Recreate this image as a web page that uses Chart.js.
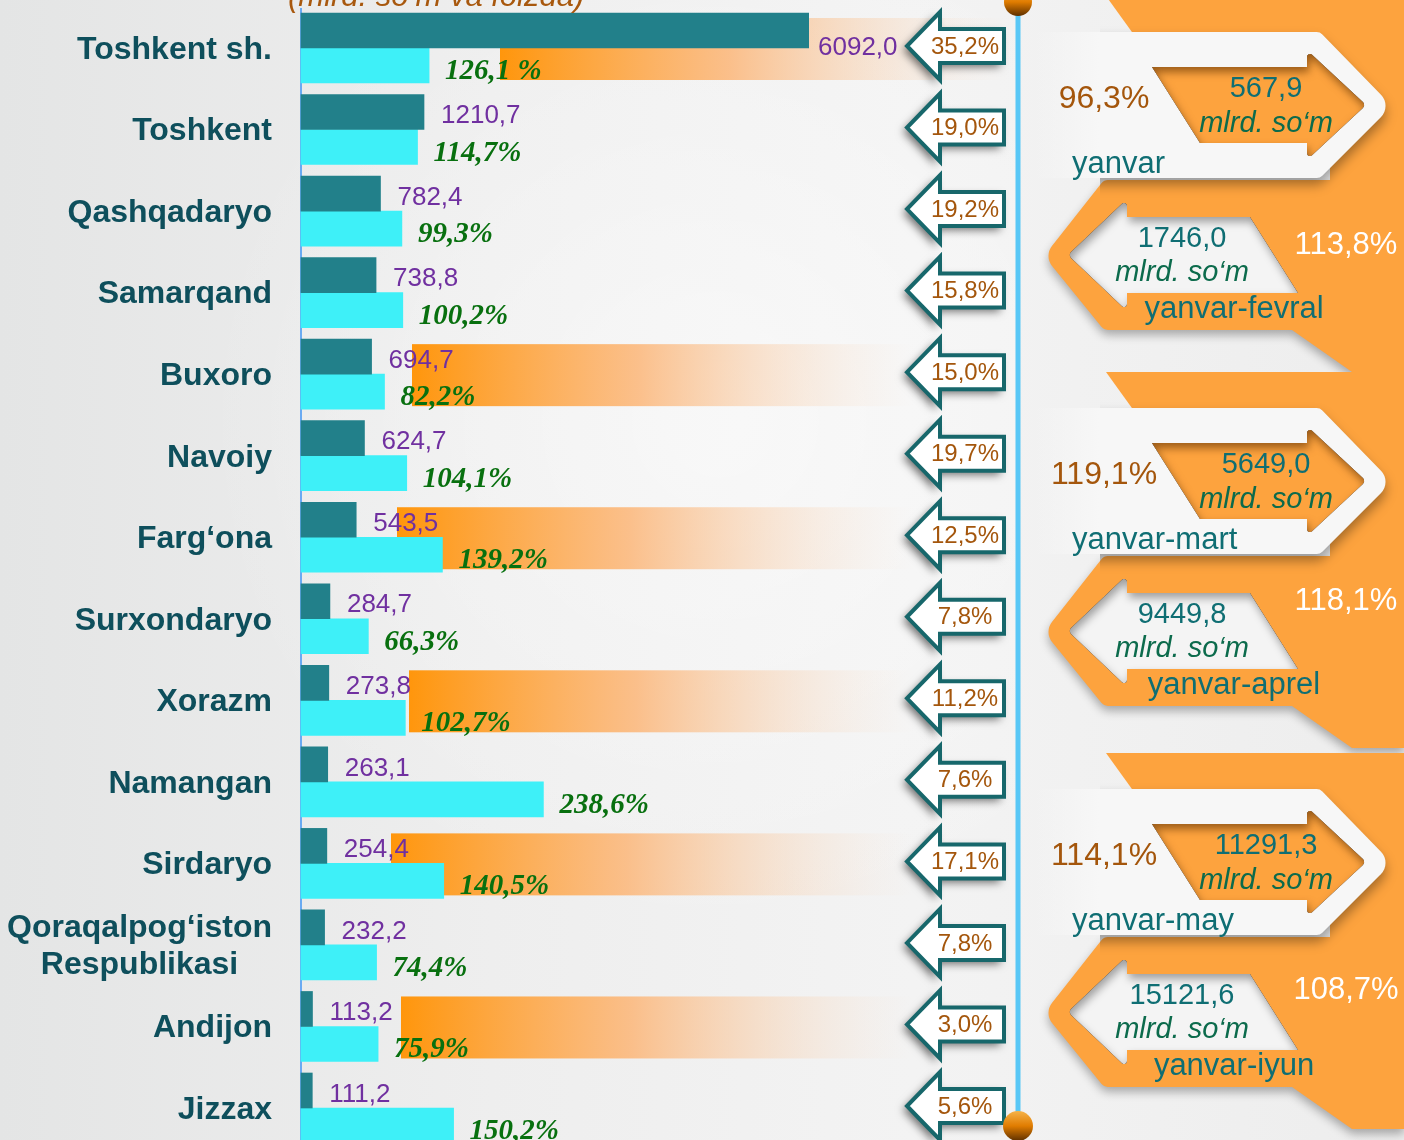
<!DOCTYPE html>
<html lang="uz">
<head>
    <meta charset="UTF-8">
    <title>Hududlar kesimida</title>
    <style>
        body {
            margin: 0;
            background: #ececec;
        }

        .wrap {
            position: relative;
            width: 1404px;
            height: 1140px;
        }
    </style>
</head>
<body>
    <div class="wrap"><canvas id="chart"></canvas></div>
    <script src="https://cdn.jsdelivr.net/npm/chart.js"></script>
    <script>
        // Ma'lumotlar
        const categories = ['Toshkent sh.', 'Toshkent', 'Qashqadaryo', 'Samarqand', 'Buxoro', 'Navoiy', 'Farg‘ona',
            'Surxondaryo', 'Xorazm', 'Namangan', 'Sirdaryo', ['Qoraqalpog‘iston', 'Respublikasi'], 'Andijon', 'Jizzax'];
        const volumes = [6092.0, 1210.7, 782.4, 738.8, 694.7, 624.7, 543.5, 284.7, 273.8, 263.1, 254.4, 232.2, 113.2, 111.2];
        const growth = [126.1, 114.7, 99.3, 100.2, 82.2, 104.1, 139.2, 66.3, 102.7, 238.6, 140.5, 74.4, 75.9, 150.2];
        const shares = [35.2, 19.0, 19.2, 15.8, 15.0, 19.7, 12.5, 7.8, 11.2, 7.6, 17.1, 7.8, 3.0, 5.6];

        const months = ['yanvar', 'yanvar-fevral', 'yanvar-mart', 'yanvar-aprel', 'yanvar-may', 'yanvar-iyun'];
        const cumVolumes = [567.9, 1746.0, 5649.0, 9449.8, 11291.3, 15121.6];
        const cumGrowth = [96.3, 113.8, 119.1, 118.1, 114.1, 108.7];

        // Ko'rinish
        const ORANGE = '#fda33e';
        const TEAL_TXT = '#0f6e73';
        const GREEN_IT = '#0c6b4c';
        const BROWN = '#a4560c';
        const SANS = '"Liberation Sans", Arial, sans-serif';
        const SERIF = '"Liberation Serif", "Times New Roman", serif';

        // ajratilgan qatorlar: indeks -> chap chegara (px)
        const bandStart = { 0: 500, 4: 412, 6: 397, 8: 409, 10: 391, 12: 401 };
        const pairTop = [0, 376, 757];
        const whitePctDy = [245, 225, 233];

        // o'ng panel shakllari: [x, y, radius]
        const topBand = [[1106, -4], [1404, -4], [1404, 46], [1142, 46]];
        const lowerBlock = [[1104, 180, 8], [1404, 180], [1404, 372], [1352, 372], [1292, 330], [1104, 330, 8], [1044, 256, 16]];
        const whiteRibbon = [[1030, 32], [1320, 32, 8], [1392, 106, 16], [1320, 178, 8], [1030, 178]];
        const innerOrange = [[1152, 67], [1307, 67], [1307, 50, 3], [1366, 105, 4], [1307, 160, 3], [1307, 143], [1200, 143]];
        const innerWhite = [[1068, 255, 4], [1127, 199, 3], [1127, 217], [1250, 217], [1298, 293], [1127, 293], [1127, 311, 3]];
        const RIBBON_SPLIT = 1100;

        const fmt = v => v.toFixed(1).replace('.', ',');

        function tracePath(ctx, pts, oy) {
            const n = pts.length;
            const p = i => pts[(i + n) % n];
            const a = p(0), z = p(n - 1);
            ctx.moveTo((a[0] + z[0]) / 2, (a[1] + z[1]) / 2 + oy);
            for (let i = 0; i < n; i++) {
                const c = p(i), nx = p(i + 1);
                ctx.arcTo(c[0], c[1] + oy, nx[0], nx[1] + oy, c[2] || 0);
            }
            ctx.closePath();
        }

        function roundPath(ctx, pts, oy) {
            ctx.beginPath();
            tracePath(ctx, pts, oy);
        }

        function insetShadow(ctx, pts, oy, color) {
            ctx.save();
            roundPath(ctx, pts, oy);
            ctx.clip();
            ctx.beginPath();
            ctx.rect(900, oy - 300, 700, 900);
            tracePath(ctx, pts, oy);
            ctx.shadowColor = color;
            ctx.shadowBlur = 8;
            ctx.shadowOffsetX = 2;
            ctx.shadowOffsetY = 5;
            ctx.fillStyle = '#000';
            ctx.fill('evenodd');
            ctx.restore();
        }

        function drawPair(ctx, oy, k) {
            ctx.save();
            ctx.fillStyle = ORANGE;
            roundPath(ctx, topBand, oy);
            ctx.fill();

            ctx.save();
            ctx.shadowColor = 'rgba(0,0,0,0.3)';
            ctx.shadowBlur = 10;
            ctx.shadowOffsetY = 5;
            roundPath(ctx, lowerBlock, oy);
            ctx.fill();
            ctx.restore();
            ctx.fillRect(1330, oy + 20, 74, 180);

            // oq lenta: o'ng qismi soya bilan, chap qismi fonga singib ketadi
            ctx.save();
            ctx.beginPath();
            ctx.rect(RIBBON_SPLIT, oy - 10, 320, 220);
            ctx.clip();
            ctx.fillStyle = '#f7f7f7';
            ctx.shadowColor = 'rgba(0,0,0,0.35)';
            ctx.shadowBlur = 12;
            ctx.shadowOffsetY = 7;
            roundPath(ctx, whiteRibbon, oy);
            ctx.fill();
            ctx.restore();
            ctx.save();
            ctx.beginPath();
            ctx.rect(1020, oy - 10, RIBBON_SPLIT - 1020, 220);
            ctx.clip();
            const wg = ctx.createLinearGradient(1035, 0, RIBBON_SPLIT, 0);
            wg.addColorStop(0, 'rgba(247,247,247,0)');
            wg.addColorStop(1, '#f7f7f7');
            ctx.fillStyle = wg;
            roundPath(ctx, whiteRibbon, oy);
            ctx.fill();
            ctx.restore();

            ctx.fillStyle = ORANGE;
            roundPath(ctx, innerOrange, oy);
            ctx.fill();
            insetShadow(ctx, innerOrange, oy, 'rgba(90,45,0,0.6)');
            ctx.fillStyle = '#f4f4f4';
            roundPath(ctx, innerWhite, oy);
            ctx.fill();
            insetShadow(ctx, innerWhite, oy, 'rgba(0,0,0,0.35)');

            // matnlar
            const a = 2 * k, b = 2 * k + 1;
            ctx.textAlign = 'center';
            ctx.textBaseline = 'middle';
            ctx.font = '32px ' + SANS;
            ctx.fillStyle = BROWN;
            ctx.fillText(fmt(cumGrowth[a]) + '%', 1104, oy + 99);
            ctx.font = '29px ' + SANS;
            ctx.fillStyle = TEAL_TXT;
            ctx.fillText(fmt(cumVolumes[a]), 1266, oy + 89);
            ctx.fillText(fmt(cumVolumes[b]), 1182, oy + 239);
            ctx.font = 'italic 29px ' + SANS;
            ctx.fillStyle = GREEN_IT;
            ctx.fillText('mlrd. so‘m', 1266, oy + 124);
            ctx.fillText('mlrd. so‘m', 1182, oy + 273);
            ctx.font = '31px ' + SANS;
            ctx.fillStyle = TEAL_TXT;
            ctx.fillText(months[b], 1234, oy + 309);
            ctx.textAlign = 'left';
            ctx.fillText(months[a], 1072, oy + 164);
            ctx.textAlign = 'center';
            ctx.fillStyle = '#ffffff';
            ctx.fillText(fmt(cumGrowth[b]) + '%', 1346, oy + whitePctDy[k]);
            ctx.restore();
        }

        function ball(ctx, x, y, r) {
            const g = ctx.createLinearGradient(0, y - r, 0, y + r);
            g.addColorStop(0, '#f6b34a');
            g.addColorStop(0.5, '#e07c00');
            g.addColorStop(1, '#5e3000');
            ctx.fillStyle = g;
            ctx.beginPath();
            ctx.arc(x, y, r, 0, Math.PI * 2);
            ctx.fill();
        }

        const decor = {
            id: 'decor',
            beforeDraw(chart) {
                const { ctx, width, height } = chart;
                ctx.save();
                const bg = ctx.createLinearGradient(0, 0, width, 0);
                bg.addColorStop(0, '#e4e5e5');
                bg.addColorStop(0.35, '#eeeeee');
                bg.addColorStop(0.65, '#f3f3f3');
                bg.addColorStop(1, '#ededed');
                ctx.fillStyle = bg;
                ctx.fillRect(0, 0, width, height);
                const glow = ctx.createRadialGradient(720, 420, 20, 720, 420, 520);
                glow.addColorStop(0, 'rgba(255,255,255,0.5)');
                glow.addColorStop(1, 'rgba(255,255,255,0)');
                ctx.fillStyle = glow;
                ctx.fillRect(200, 0, 820, height);
                ctx.restore();
                pairTop.forEach((oy, k) => drawPair(ctx, oy, k));
            },
            beforeDatasetsDraw(chart) {
                const { ctx, chartArea } = chart;
                const ys = chart.scales.y;
                ctx.save();
                Object.keys(bandStart).forEach(key => {
                    const i = +key;
                    const cy = ys.getPixelForValue(i);
                    const x0 = bandStart[i], x1 = i === 0 ? 1010 : 915;
                    const g = ctx.createLinearGradient(x0, 0, x1, 0);
                    g.addColorStop(0, 'rgba(255,150,12,1)');
                    g.addColorStop(0.45, 'rgba(252,182,120,0.85)');
                    g.addColorStop(1, 'rgba(246,226,210,0)');
                    ctx.fillStyle = g;
                    ctx.fillRect(x0, cy - 30, x1 - x0, 62);
                });
                ctx.strokeStyle = '#6aaaf2';
                ctx.lineWidth = 2;
                ctx.beginPath();
                ctx.moveTo(chartArea.left, 8);
                ctx.lineTo(chartArea.left, chart.height);
                ctx.stroke();
                ctx.restore();
            },
            afterDatasetsDraw(chart) {
                const { ctx, chartArea } = chart;
                const ys = chart.scales.y;
                const teal = chart.getDatasetMeta(0).data;
                const cyan = chart.getDatasetMeta(1).data;
                ctx.save();
                ctx.textBaseline = 'middle';

                // hudud nomlari
                ctx.font = 'bold 32px ' + SANS;
                ctx.fillStyle = '#0e4f5c';
                categories.forEach((name, i) => {
                    const cy = ys.getPixelForValue(i) + 2;
                    const lines = [].concat(name);
                    const w = Math.max(...lines.map(l => ctx.measureText(l).width));
                    const multi = lines.length > 1;
                    ctx.textAlign = multi ? 'center' : 'right';
                    const x = multi ? 272 - w / 2 : 272;
                    lines.forEach((l, j) => ctx.fillText(l, x, cy + (j - (lines.length - 1) / 2) * 37));
                });

                // qiymatlar
                ctx.textAlign = 'left';
                ctx.font = '26px ' + SANS;
                ctx.fillStyle = '#7030a0';
                teal.forEach((bar, i) => {
                    const clipped = bar.x > chartArea.right;
                    const x = clipped ? chartArea.right + 9 : bar.x + 17;
                    const y = clipped ? ys.getPixelForValue(i) : bar.y + 4;
                    ctx.fillText(fmt(volumes[i]), x, y);
                });
                ctx.font = 'italic bold 29px ' + SERIF;
                ctx.fillStyle = '#08700f';
                cyan.forEach((bar, i) => {
                    ctx.fillText(fmt(growth[i]) + (i === 0 ? ' %' : '%'), bar.x + 16, bar.y + 6);
                });

                // ulush strelkalari
                shares.forEach((s, i) => {
                    const cy = ys.getPixelForValue(i) - 2;
                    const pts = [[907, cy], [940, cy - 34], [940, cy - 17], [1004, cy - 17], [1004, cy + 17], [940, cy + 17], [940, cy + 34]];
                    ctx.save();
                    ctx.shadowColor = 'rgba(0,0,0,0.55)';
                    ctx.shadowBlur = 9;
                    ctx.shadowOffsetX = -4;
                    ctx.shadowOffsetY = 4;
                    roundPath(ctx, pts, 0);
                    ctx.fillStyle = '#ffffff';
                    ctx.fill();
                    ctx.restore();
                    roundPath(ctx, pts, 0);
                    ctx.strokeStyle = '#17676b';
                    ctx.lineWidth = 4;
                    ctx.stroke();
                    ctx.font = '24px ' + SANS;
                    ctx.fillStyle = BROWN;
                    ctx.textAlign = 'center';
                    ctx.fillText(fmt(s) + '%', 965, cy + 1);
                });

                // vertikal chiziq
                ctx.strokeStyle = '#58c7f6';
                ctx.lineWidth = 5;
                ctx.beginPath();
                ctx.moveTo(1018, 0);
                ctx.lineTo(1018, 1125);
                ctx.stroke();
                ball(ctx, 1018, 2, 14);
                ball(ctx, 1018, 1126, 15);

                // sarlavha
                ctx.font = 'italic 31px ' + SANS;
                ctx.fillStyle = '#a8580e';
                ctx.textAlign = 'left';
                ctx.textBaseline = 'alphabetic';
                ctx.fillText('(mlrd. so‘m va foizda)', 288, 6);
                ctx.restore();
            }
        };

        const ctx = document.getElementById('chart').getContext('2d');
        const chart = new Chart(ctx, {
            type: 'bar',
            data: {
                labels: categories,
                datasets: [{
                    label: 'mlrd. so‘m',
                    data: volumes,
                    xAxisID: 'x',
                    backgroundColor: '#22808a',
                    barThickness: 35,
                    clip: { left: false, top: false, right: 0, bottom: false }
                }, {
                    label: '%',
                    data: growth,
                    xAxisID: 'x2',
                    backgroundColor: '#3ef0f8',
                    barThickness: 35,
                    clip: false
                }]
            },
            options: {
                indexAxis: 'y',
                responsive: true,
                maintainAspectRatio: false,
                animation: false,
                layout: {
                    padding: { top: 48, bottom: 32, left: 0, right: 595 }
                },
                plugins: {
                    legend: { display: false },
                    tooltip: { enabled: false }
                },
                scales: {
                    y: {
                        offset: false,
                        grid: { display: false },
                        border: { display: false },
                        ticks: { display: false },
                        afterFit: scale => { scale.width = 301; }
                    },
                    x: { min: 0, max: 5000, display: false },
                    x2: { axis: 'x', min: 0, max: 500, display: false }
                }
            },
            plugins: [decor]
        });
    </script>
</body>
</html>
